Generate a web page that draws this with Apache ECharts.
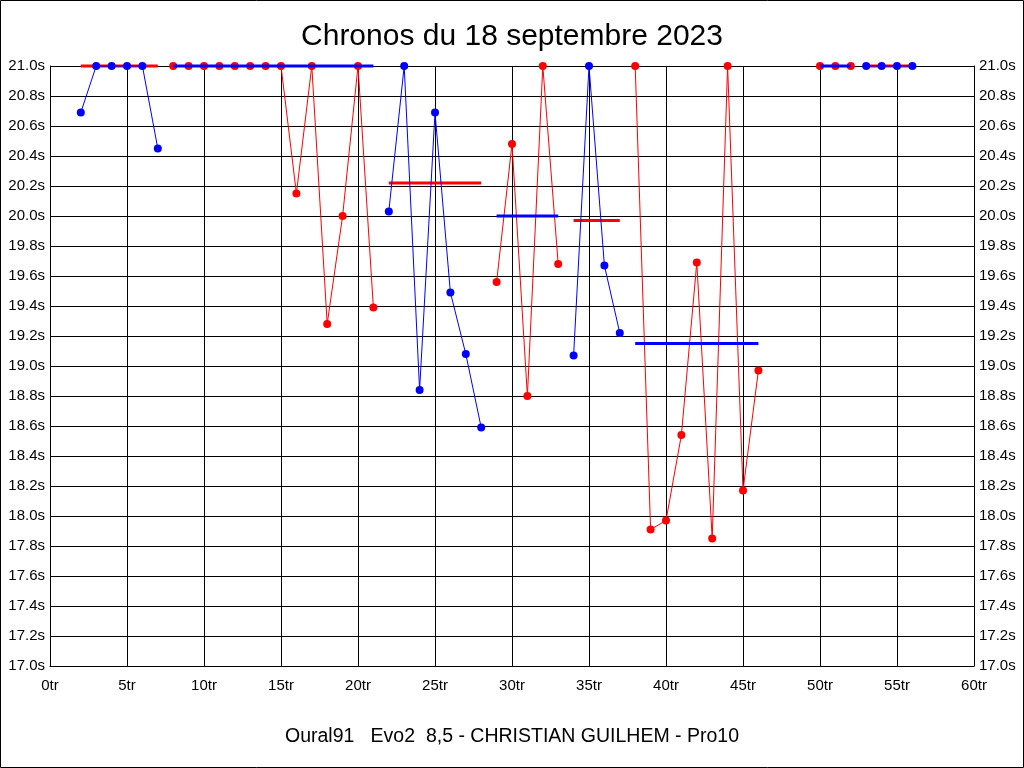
<!DOCTYPE html>
<html><head><meta charset="utf-8">
<script src="https://cdn.jsdelivr.net/npm/echarts@6/dist/echarts.min.js"></script>
<style>html,body{margin:0;padding:0;background:#fff}#c{width:1024px;height:768px}</style>
</head><body><div id="c"></div>
<script>
const runStarts = [2, 8, 22, 29, 34, 38, 50, 53];
const runColors = ['blue', 'red', 'blue', 'red', 'blue', 'red', 'red', 'blue'];
const run1 = [20.69, 21.0, 21.0, 21.0, 21.0, 20.45];
const run2 = [21.0, 21.0, 21.0, 21.0, 21.0, 21.0, 21.0, 21.0, 20.15, 21.0, 19.28, 20.0, 21.0, 19.39];
const run3 = [20.03, 21.0, 18.84, 20.69, 19.49, 19.08, 18.59];
const run4 = [19.56, 20.48, 18.80, 21.0, 19.68];
const run5 = [19.07, 21.0, 19.67, 19.22];
const run6 = [21.0, 17.91, 17.97, 18.54, 19.69, 17.85, 21.0, 18.17, 18.97];
const run7 = [21.0, 21.0, 21.0];
const run8 = [21.0, 21.0, 21.0, 21.0];
const runAverages = [21.0, 21.0, 20.22, 20.0, 19.97, 19.15, 21.0, 21.0];
const titleText = 'Chronos du 18 septembre 2023';
const footerText = 'Oural91   Evo2  8,5 - CHRISTIAN GUILHEM - Pro10';

const runs = [run1, run2, run3, run4, run5, run6, run7, run8];
const COL = { blue: '#0000ff', red: '#ff0000' };
const FONT = '"Liberation Sans", Arial, sans-serif';

const series = [];
runs.forEach((vals, i) => {
  const start = runStarts[i];
  const c = runColors[i];
  const avgC = c === 'blue' ? 'red' : 'blue';
  const z = (col) => col === 'blue' ? 4 : 2;
  series.push({
    type: 'line', xAxisIndex: 0, yAxisIndex: 0, clip: false,
    data: vals.map((v, k) => [start + k, v]),
    symbol: 'circle', symbolSize: 8, showSymbol: true,
    lineStyle: { color: COL[c], width: 1 },
    itemStyle: { color: COL[c] },
    z: z(c) + 1, animation: false, silent: true
  });
  series.push({
    type: 'line', xAxisIndex: 0, yAxisIndex: 0, clip: false,
    data: [[start, runAverages[i]], [start + vals.length - 1, runAverages[i]]],
    symbol: 'none',
    lineStyle: { color: COL[avgC], width: 3 },
    z: z(avgC), animation: false, silent: true
  });
});

const yAxisBase = {
  type: 'value', min: 17, max: 21, interval: 0.2,
  axisLine: { show: true, lineStyle: { color: '#000', width: 1 } },
  axisTick: { show: false },
  splitLine: { show: true, lineStyle: { color: '#000', width: 1 } },
  axisLabel: { color: '#000', fontSize: 15, fontFamily: FONT, margin: 5,
    formatter: v => v.toFixed(1) + 's' }
};

const chart = echarts.init(document.getElementById('c'), null, { renderer: 'canvas' });
chart.setOption({
  backgroundColor: '#fff',
  animation: false,
  title: [
    { text: titleText, left: 'center', top: 22, padding: 0,
      textStyle: { fontSize: 30, fontWeight: 'normal', color: '#000', fontFamily: FONT } },
    { text: footerText, left: 'center', top: 727, padding: 0,
      textStyle: { fontSize: 19.5, fontWeight: 'normal', color: '#000', fontFamily: FONT } }
  ],
  grid: { left: 50, right: 50, top: 66, bottom: 102, containLabel: false },
  xAxis: {
    type: 'value', min: 0, max: 60, interval: 5,
    axisLine: { show: true, onZero: false, lineStyle: { color: '#000', width: 1 } },
    axisTick: { show: false },
    splitLine: { show: true, lineStyle: { color: '#000', width: 1 } },
    axisLabel: { color: '#000', fontSize: 15, fontFamily: FONT, margin: 12,
      formatter: v => v + 'tr' }
  },
  yAxis: [
    Object.assign({}, yAxisBase, { position: 'left' }),
    Object.assign({}, yAxisBase, { position: 'right', splitLine: { show: false } })
  ],
  graphic: [
    { type: 'rect', shape: { x: 0.5, y: 0.5, width: 1023, height: 767 },
      style: { fill: 'none', stroke: '#000', lineWidth: 1 }, silent: true }
  ],
  series: series
});
</script>
</body></html>
